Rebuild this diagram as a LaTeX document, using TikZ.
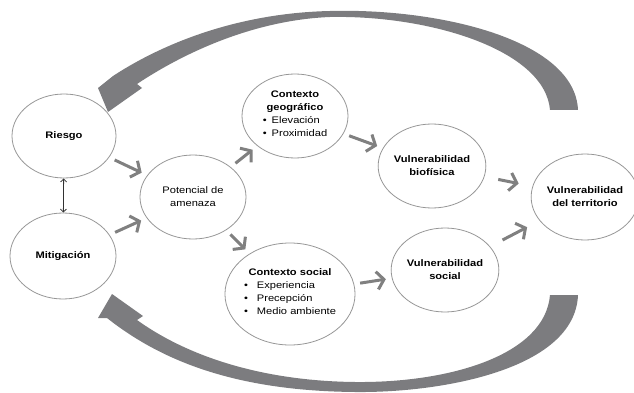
\documentclass[tikz,border=0pt]{standalone}
\usepackage{fontspec}
\setmainfont{Liberation Sans}[FakeStretch=1.17]
\usepackage{tikz}
\usetikzlibrary{shapes.geometric}
\usetikzlibrary{arrows.meta}
\definecolor{circgray}{RGB}{150,150,150}
\definecolor{chevgray}{RGB}{128,128,128}
\definecolor{bandgray}{RGB}{124,124,127}
\definecolor{pairgray}{RGB}{50,50,50}

\tikzset{
	circ/.style={ellipse, draw=circgray, line width=0.8pt, inner sep=0pt, align=center, font=\fontsize{9.5}{13}\selectfont},
	chev/.style={draw=chevgray, line width=3pt, -{Straight Barb[length=7pt,width=18pt]}, shorten <=6pt, shorten >=6pt},
	band/.style={fill=bandgray, draw=none}
}

\begin{document}
\begin{tikzpicture}[x=1pt,y=-1pt]
	\useasboundingbox (0,0) rectangle (634,393);
	\node[circ, minimum width=104pt, minimum height=84pt] (riesgo) at (64,136) {\textbf{Riesgo}};
	\node[circ, minimum width=106pt, minimum height=86pt] (mitig) at (63,256) {\textbf{Mitigación}};
	\node[circ, minimum width=106pt, minimum height=84pt] (potencial) at (193,197) {Potencial de\\amenaza};
	\node[circ, minimum width=106pt, minimum height=84pt] (geo) at (295,116) {\textbf{Contexto}\\\textbf{geográfico}\\
		\begin{tabular}[t]{@{}l@{}}\textbullet\hspace{5pt}Elevación\\\textbullet\hspace{5pt}Proximidad\end{tabular}};
	\node[circ, minimum width=126pt, minimum height=102pt] (ctxsocial) at (290,294) {\textbf{Contexto social}\\
		\begin{tabular}[t]{@{}l@{}}\textbullet\hspace{9pt}Experiencia\\\textbullet\hspace{9pt}Precepción\\\textbullet\hspace{9pt}Medio ambiente\end{tabular}};
	\node[circ, minimum width=104pt, minimum height=84pt] (biof) at (432,166) {\textbf{Vulnerabilidad}\\\textbf{biofísica}};
	\node[circ, minimum width=105pt, minimum height=84pt] (vsocial) at (445,270) {\textbf{Vulnerabilidad}\\\textbf{social}};
	\node[circ, minimum width=96pt, minimum height=86pt] (territorio) at (585,197) {\textbf{Vulnerabilidad}\\\textbf{del territorio}};

	\draw[pairgray, line width=0.8pt, {Straight Barb[length=3pt]}-{Straight Barb[length=3pt]}] (riesgo) -- (mitig);

	\draw[chev] (riesgo) -- (potencial);
	\draw[chev] (mitig) -- (potencial);
	\draw[chev] (potencial) -- (geo);
	\draw[chev] (potencial) -- (ctxsocial);
	\draw[chev] (geo) -- (biof);
	\draw[chev] (ctxsocial) -- (vsocial);
	\draw[chev, shorten <=14pt, shorten >=14pt] (biof) -- (territorio);
	\draw[chev, shorten <=14pt, shorten >=14pt] (vsocial) -- (territorio);

	\fill[band] (578,110) .. controls (575,40) and (440,8) .. (330,11)
		.. controls (240,13) and (165,42) .. (113,76)
		-- (98,88) -- (108,112) -- (142,88) -- (137,84)
		.. controls (185,52) and (255,20) .. (330,17)
		.. controls (430,15) and (545,50) .. (550,110) -- cycle;
	\fill[band] (578,295) .. controls (575,370) and (440,393) .. (355,392)
		.. controls (250,391) and (170,368) .. (107,318)
		-- (98,318) -- (112,294) -- (143,316) -- (137,320)
		.. controls (190,358) and (265,381) .. (355,382)
		.. controls (450,383) and (545,355) .. (550,295) -- cycle;
\end{tikzpicture}
\end{document}
